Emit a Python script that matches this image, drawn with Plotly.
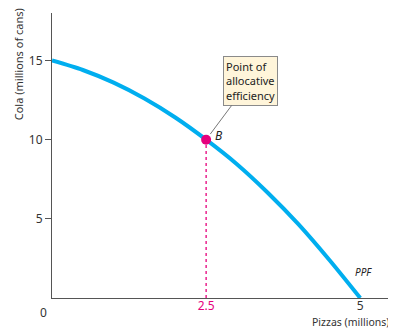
import plotly.graph_objects as go

# PPF curve
pizzas = [0, 0.5, 1, 1.5, 2, 2.5, 3, 3.5, 4, 4.5, 5]
cola = [15, 14.4, 13.6, 12.6, 11.4, 10, 8.45, 6.65, 4.65, 2.4, 0]

point_x = [2.5]
point_y = [10]

y_ticks = [5, 10, 15]
x_ticks = [2.5, 5]
x_ticktext = ['<span style="color:#E5007D">2.5</span>', '5']

CYAN = "#00AEEF"
MAGENTA = "#E5007D"
AXIS = "#555555"
FONT = "Noto Sans"

fig = go.Figure()

fig.add_trace(go.Scatter(
    x=pizzas, y=cola, mode="lines",
    line=dict(color=CYAN, width=4, shape="spline", smoothing=0.8),
    hoverinfo="skip", showlegend=False,
))

# dotted drop line from point B to x axis
fig.add_trace(go.Scatter(
    x=[point_x[0], point_x[0]], y=[0, point_y[0]], mode="lines",
    line=dict(color=MAGENTA, width=1.3, dash="dot"),
    hoverinfo="skip", showlegend=False,
))

fig.add_trace(go.Scatter(
    x=point_x, y=point_y, mode="markers",
    marker=dict(color=MAGENTA, size=10),
    hoverinfo="skip", showlegend=False,
))

# the page body adds an 8px offset, so the figure is 8px smaller and margins shifted
fig.update_layout(
    width=388, height=321,
    margin=dict(l=44, r=0, t=5, b=31),
    paper_bgcolor="white", plot_bgcolor="white",
    font=dict(family=FONT, size=11, color="#333333"),
    xaxis=dict(
        range=[0, 5.58], showgrid=False, zeroline=False,
        showline=True, linecolor=AXIS, linewidth=1,
        tickvals=x_ticks, ticktext=x_ticktext, ticks="",
        ticklabelstandoff=-3,
        tickfont=dict(size=12, family=FONT, color="#333333"),
    ),
    yaxis=dict(
        range=[0, 18], showgrid=False, zeroline=False,
        showline=True, linecolor=AXIS, linewidth=1,
        tickvals=y_ticks, ticks="outside", ticklen=6, tickcolor=AXIS,
        tickfont=dict(size=12, family=FONT, color="#333333"),
    ),
)

annotations = [
    dict(x=point_x[0], y=point_y[0], xref="x", yref="y",
         text="Point of<br>allocative<br>efficiency", align="left",
         showarrow=True, arrowhead=0, arrowwidth=1, arrowcolor="#777777",
         ax=44, ay=-59, standoff=7,
         bgcolor="#FFF5DA", bordercolor="#8a8a8a", borderwidth=1, borderpad=2,
         font=dict(size=11, family=FONT, color="#222222")),
    dict(x=point_x[0], y=point_y[0], xref="x", yref="y",
         text="<i>B</i>", showarrow=False, xshift=13, yshift=4,
         font=dict(size=12, family=FONT, color="#222222")),
    dict(x=5.06, y=1.65, xref="x", yref="y", text="<i>PPF</i>",
         showarrow=False, font=dict(size=10, family=FONT, color="#222222")),
    dict(x=-0.026, y=0, xref="paper", yref="y", xanchor="center", yanchor="top",
         text="0", showarrow=False, yshift=-4,
         font=dict(size=12, family=FONT, color="#333333")),
    dict(x=0.985, y=-0.0825, xref="paper", yref="paper", xanchor="right", yanchor="middle",
         text="Pizzas (millions)", showarrow=False,
         font=dict(size=10.5, family=FONT, color="#333333")),
    dict(x=-0.099, y=0.82, xref="paper", yref="paper", xanchor="center", yanchor="middle",
         text="Cola (millions of cans)", showarrow=False, textangle=-90,
         font=dict(size=11, family=FONT, color="#333333")),
]
fig.update_layout(annotations=annotations)

fig.write_html("out.html")
